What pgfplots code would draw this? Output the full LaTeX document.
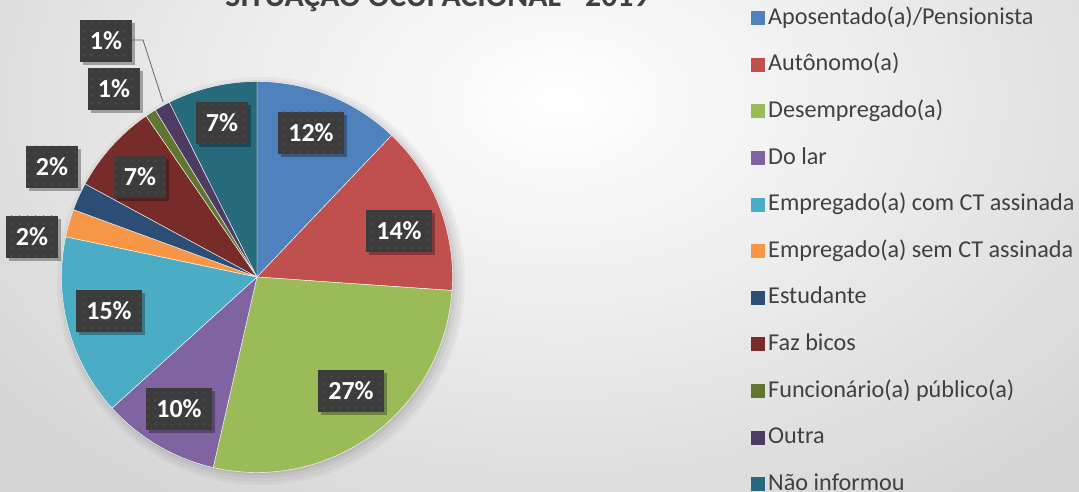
\documentclass[border=0pt]{standalone}
\usepackage{fontspec}
\setmainfont{Carlito}
\usepackage{pgfplots}
\pgfplotsset{compat=1.18}
\usetikzlibrary{shadows,patterns}
\definecolor{cA}{HTML}{4F81BD}
\definecolor{cB}{HTML}{C0504D}
\definecolor{cC}{HTML}{9BBB59}
\definecolor{cD}{HTML}{8064A2}
\definecolor{cE}{HTML}{4BACC6}
\definecolor{cF}{HTML}{F79646}
\definecolor{cG}{HTML}{2C4D75}
\definecolor{cH}{HTML}{772C2A}
\definecolor{cI}{HTML}{5F7530}
\definecolor{cJ}{HTML}{4D3B62}
\definecolor{cK}{HTML}{276A7C}
\definecolor{textgray}{HTML}{404040}
\definecolor{labelgray}{HTML}{3C3C3C}
\definecolor{dotgray}{HTML}{4A4A4A}
\definecolor{bggray}{HTML}{D4D4D4}
\pgfdeclarepatternformonly{sparsedots}{\pgfqpoint{0pt}{0pt}}{\pgfqpoint{8pt}{8pt}}{\pgfqpoint{8pt}{8pt}}{%
  \pgfpathcircle{\pgfqpoint{4pt}{4pt}}{1.3pt}\pgfusepath{fill}}
% slice: colour, start (cumulative %), end (cumulative %), legend text
\newcommand{\slice}[4]{%
  \addplot[fill=#1, draw=white, line width=0.4pt, domain=#2:#3, samples=60, variable=\t]
    ({257+195.5*sin(3.6*\t)}, {214+195.5*cos(3.6*\t)}) -- (axis cs:257,214) -- cycle;
  \addlegendentry{#4}}
\tikzset{lbl/.style={fill=labelgray, text=white, font=\bfseries\fontsize{26}{30}\selectfont,
  inner xsep=10pt, inner ysep=12.8pt, text height=16.4pt, text depth=0pt,
  drop shadow={shadow xshift=3pt, shadow yshift=-3pt, fill=black, opacity=0.3},
  postaction={pattern=sparsedots, pattern color=dotgray}}}
\begin{document}
\begin{tikzpicture}
\path[use as bounding box] (0pt,0pt) rectangle (1079pt,491pt);
\clip (0pt,0pt) rectangle (1079pt,491pt);
\fill[bggray] (0pt,0pt) rectangle (1079pt,491pt);
\shade[inner color=white, outer color=bggray] (-190pt,-110pt) rectangle (1310pt,890pt);
\begin{axis}[at={(0pt,0pt)}, anchor=south west, scale only axis,
  width=1079pt, height=491pt, xmin=0, xmax=1079, ymin=0, ymax=491,
  hide axis, clip=false,
  legend image code/.code={\fill[#1,draw=none] (0pt,-7pt) rectangle (14pt,7pt);},
  legend cell align=left,
  legend style={at={(axis cs:751,484)}, anchor=north west, draw=none, fill=none,
    inner sep=0pt, row sep=24.6pt, font=\fontsize{24.2}{28}\selectfont, text=textgray,
    nodes={inner xsep=3pt, inner ysep=0pt, text height=17pt, text depth=5pt}},
]
% soft shadow of the pie
\fill[black, opacity=0.035] (axis cs:261,210) circle[radius=204pt];
\fill[black, opacity=0.035] (axis cs:261,210) circle[radius=201pt];
\fill[black, opacity=0.04] (axis cs:260,211) circle[radius=198pt];
\fill[black, opacity=0.05] (axis cs:259,212) circle[radius=196pt];
% slices: 12.1, 14.0, 27.5, 9.7, 15.0, 2.3, 2.3, 7.5, 0.9, 1.3, 7.4 (%)
\slice{cA}{0}{12.1}{Aposentado(a)/Pensionista}
\slice{cB}{12.1}{26.1}{Autônomo(a)}
\slice{cC}{26.1}{53.6}{Desempregado(a)}
\slice{cD}{53.6}{63.3}{Do lar}
\slice{cE}{63.3}{78.3}{Empregado(a) com CT assinada}
\slice{cF}{78.3}{80.6}{Empregado(a) sem CT assinada}
\slice{cG}{80.6}{82.9}{Estudante}
\slice{cH}{82.9}{90.4}{Faz bicos}
\slice{cI}{90.4}{91.3}{Funcionário(a) público(a)}
\slice{cJ}{91.3}{92.6}{Outra}
\slice{cK}{92.6}{100}{Não informou}
% leader line
\draw[gray!80!black, line width=0.8pt] (axis cs:131,451) -- (axis cs:143,451) -- (axis cs:163,389);
% data labels
\node[lbl] at (axis cs:311,358) {12\%};
\node[lbl] at (axis cs:399,260) {14\%};
\node[lbl] at (axis cs:351,100) {27\%};
\node[lbl] at (axis cs:179,82) {10\%};
\node[lbl] at (axis cs:109,180) {15\%};
\node[lbl] at (axis cs:32,254) {2\%};
\node[lbl] at (axis cs:52,324) {2\%};
\node[lbl] at (axis cs:140,314) {7\%};
\node[lbl] at (axis cs:114,402) {1\%};
\node[lbl] at (axis cs:106,450) {1\%};
\node[lbl] at (axis cs:222,368) {7\%};
% title
\node[anchor=base, text=textgray, font=\bfseries\fontsize{31.8}{36}\selectfont] at (axis cs:437.5,484) {SITUAÇÃO OCUPACIONAL - 2019};
\end{axis}
\end{tikzpicture}
\end{document}
